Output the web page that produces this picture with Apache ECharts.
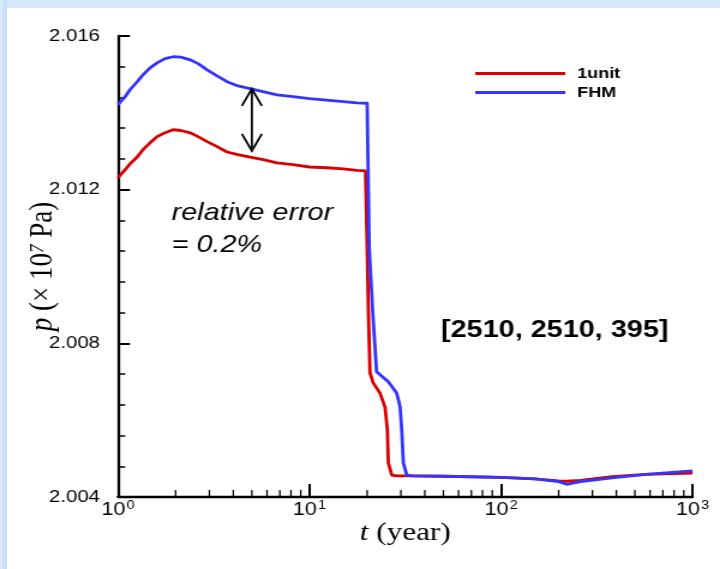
<!DOCTYPE html>
<html><head><meta charset="utf-8">
<script src="https://cdn.jsdelivr.net/npm/echarts@6/dist/echarts.min.js"></script>
<style>
html,body{margin:0;padding:0;width:720px;height:569px;overflow:hidden;background:#d9e9fb;}
#side{position:absolute;left:0;top:0;width:7px;height:569px;background:linear-gradient(to right,#deebfb,#c3dbf7);}
#panel{position:absolute;left:7px;top:8px;width:713px;height:561px;background:#fff;}
#chart{position:absolute;left:0;top:0;width:600px;height:569px;transform:scaleX(1.2);transform-origin:0 0;}
</style></head>
<body><div id="side"></div><div id="panel"></div><div id="chart"></div>
<script>
// time (years) and pressure (x 10^7 Pa) for the single-unit model
const unitT = [1, 1.09, 1.155, 1.26, 1.35, 1.47, 1.6, 1.76, 1.94, 2.13, 2.38, 2.62, 2.92, 3.29, 3.71, 4.23, 4.89, 5.72, 6.77, 8.2, 10, 12.3, 15, 17.7, 19.6,
  20.0, 20.3, 20.7, 21.5, 23.3, 24.8, 25.5, 25.8, 26.9, 28.5, 34, 50, 100, 150, 200, 220, 260, 380, 570, 1000];
const unitP = [2.01231, 2.01252, 2.01267, 2.01285, 2.01304, 2.01322, 2.01338, 2.01348, 2.01356, 2.01354, 2.01348, 2.01338, 2.01325, 2.01312, 2.01298, 2.01291, 2.01285, 2.01278, 2.01270, 2.01265, 2.01259, 2.01257, 2.01254, 2.01250, 2.01249,
  2.01050, 2.00879, 2.00723, 2.00697, 2.00671, 2.00634, 2.00575, 2.00489, 2.00457, 2.00455, 2.00455, 2.00454, 2.00451, 2.00447, 2.00442, 2.00441, 2.00443, 2.00453, 2.00459, 2.00462];

// time (years) and pressure for the full heterogeneous model
const fhmT = [1, 1.09, 1.155, 1.26, 1.35, 1.47, 1.6, 1.76, 1.94, 2.13, 2.38, 2.62, 2.92, 3.29, 3.71, 4.23, 4.89, 5.72, 6.77, 8.2, 10, 12.3, 15, 17.7, 20.0,
  20.5, 21.4, 22.4, 25.8, 28.5, 29.7, 30.3, 30.9, 32.2, 34.5, 50, 100, 150, 200, 220, 260, 380, 570, 1000];
const fhmP = [2.01421, 2.01442, 2.01460, 2.01481, 2.01499, 2.01517, 2.01530, 2.01541, 2.01546, 2.01545, 2.01538, 2.01528, 2.01512, 2.01496, 2.01481, 2.01470, 2.01463, 2.01455, 2.01447, 2.01442, 2.01437, 2.01433, 2.01429, 2.01426, 2.01425,
  2.01050, 2.00879, 2.00726, 2.00700, 2.00671, 2.00635, 2.00575, 2.00489, 2.00457, 2.00455, 2.00454, 2.00451, 2.00447, 2.00440, 2.00433, 2.00440, 2.00450, 2.00459, 2.00468];

// axis ranges and tick values
const yMin = 2.004, yMax = 2.016, yStep = 0.004;
const tMin = 1, tMax = 1000;
const logMinorTicks = [2, 3, 4, 5, 6, 7, 8, 9, 20, 30, 40, 50, 60, 70, 80, 90, 200, 300, 400, 500, 600, 700, 800, 900];

// double arrow marking the gap between the two curves
const arrowT = [5];
const arrowHigh = [2.014625];
const arrowLow = [2.01301];

const seriesNames = ['1unit', 'FHM'];
const RED = '#d80000', BLUE = '#3434ff';

const zip = (a, b) => a.map((v, i) => [v, b[i]]);

const chart = echarts.init(document.getElementById('chart'), null, { renderer: 'canvas' });

const option = {
  backgroundColor: 'transparent',
  animation: false,
  grid: { left: 98.3, right: 22.9, top: 36, bottom: 72, containLabel: false, outerBoundsMode: 'none' },
  legend: {
    data: seriesNames,
    orient: 'vertical',
    left: 391,
    top: 61,
    icon: 'rect',
    itemWidth: 75,
    itemHeight: 3,
    itemGap: 4,
    textStyle: { fontFamily: 'Liberation Sans', fontWeight: 'bold', fontSize: 15, color: '#000', padding: [0, 0, 0, 5] }
  },
  xAxis: {
    type: 'log',
    logBase: 10,
    min: tMin,
    max: tMax,
    name: '{i|t} (year)',
    nameLocation: 'middle',
    nameGap: 23,
    nameMoveOverlap: false,
    nameTextStyle: {
      fontFamily: 'Liberation Serif', fontSize: 26, color: '#000',
      rich: { i: { fontFamily: 'Liberation Serif', fontSize: 26, fontStyle: 'italic', color: '#000' } }
    },
    axisLine: { lineStyle: { color: '#000', width: 2.3 } },
    axisTick: { inside: true, length: 13, lineStyle: { color: '#000', width: 2 } },
    axisLabel: {
      margin: 3,
      color: '#000',
      fontFamily: 'Liberation Sans',
      fontSize: 18,
      formatter: v => '10{s|' + Math.round(Math.log10(v)) + '}',
      rich: { s: { fontFamily: 'Liberation Sans', fontSize: 12, color: '#000', verticalAlign: 'top', padding: [0, 0, 8, 1] } }
    },
    splitLine: { show: false }
  },
  yAxis: {
    type: 'value',
    min: yMin,
    max: yMax,
    interval: yStep,
    name: '{i|p} (× 10{s|7} Pa)',
    nameLocation: 'middle',
    nameRotate: 90,
    nameGap: 62,
    nameMoveOverlap: false,
    nameTextStyle: {
      fontFamily: 'Liberation Serif', fontSize: 27, color: '#000',
      align: 'center', verticalAlign: 'middle',
      rich: {
        i: { fontFamily: 'Liberation Serif', fontSize: 27, fontStyle: 'italic', color: '#000' },
        s: { fontFamily: 'Liberation Serif', fontSize: 17, fontStyle: 'italic', color: '#000', verticalAlign: 'top', padding: [0, 0, 10, 0] }
      }
    },
    axisLine: { show: true, lineStyle: { color: '#000', width: 2.3 } },
    axisTick: { inside: true, length: 10, lineStyle: { color: '#000', width: 2 } },
    minorTick: { show: true, splitNumber: 5, length: 6, lineStyle: { color: '#000', width: 1.5 } },
    axisLabel: {
      margin: 15, color: '#000', fontFamily: 'Liberation Sans', fontSize: 17,
      formatter: v => v.toFixed(3)
    },
    splitLine: { show: false }
  },
  graphic: [
    { type: 'text', x: 143, y: 213, style: { text: 'relative error', font: 'italic 24px "Liberation Sans"', fill: '#000', verticalAlign: 'middle' } },
    { type: 'text', x: 143, y: 245, style: { text: '= 0.2%', font: 'italic 24px "Liberation Sans"', fill: '#000', verticalAlign: 'middle' } },
    { type: 'text', x: 367.5, y: 330, style: { text: '[2510, 2510, 395]', font: 'bold 24px "Liberation Sans"', fill: '#000', verticalAlign: 'middle' } }
  ],
  series: [
    {
      name: seriesNames[0], type: 'line', data: zip(unitT, unitP), showSymbol: false, z: 3,
      lineStyle: { color: RED, width: 2.8, join: 'round' }, itemStyle: { color: RED }
    },
    {
      name: seriesNames[1], type: 'line', data: zip(fhmT, fhmP), showSymbol: false, z: 4,
      lineStyle: { color: BLUE, width: 2.8, join: 'round' }, itemStyle: { color: BLUE }
    },
    {
      // logarithmic minor ticks along the time axis
      type: 'custom', silent: true, z: 5, clip: false,
      data: logMinorTicks.map(t => [t, yMin]),
      renderItem: (params, api) => {
        const p = api.coord([api.value(0), api.value(1)]);
        return { type: 'line', shape: { x1: p[0], y1: p[1], x2: p[0], y2: p[1] - 7 }, style: { stroke: '#000', lineWidth: 1.3 } };
      }
    },
    {
      // double-headed arrow between the curves
      type: 'custom', silent: true, z: 6, clip: false,
      data: arrowT.map((t, i) => [t, arrowHigh[i], arrowLow[i]]),
      renderItem: (params, api) => {
        const top = api.coord([api.value(0), api.value(1)]);
        const bot = api.coord([api.value(0), api.value(2)]);
        const hw = 8.3, hl = 17;
        const st = { stroke: '#000', lineWidth: 1.8, fill: null };
        return {
          type: 'group',
          children: [
            { type: 'line', shape: { x1: top[0], y1: top[1], x2: bot[0], y2: bot[1] }, style: st },
            { type: 'polyline', shape: { points: [[top[0] - hw, top[1] + hl], [top[0], top[1]], [top[0] + hw, top[1] + hl]] }, style: st },
            { type: 'polyline', shape: { points: [[bot[0] - hw, bot[1] - hl], [bot[0], bot[1]], [bot[0] + hw, bot[1] - hl]] }, style: st }
          ]
        };
      }
    }
  ]
};

chart.setOption(option);
</script></body></html>
